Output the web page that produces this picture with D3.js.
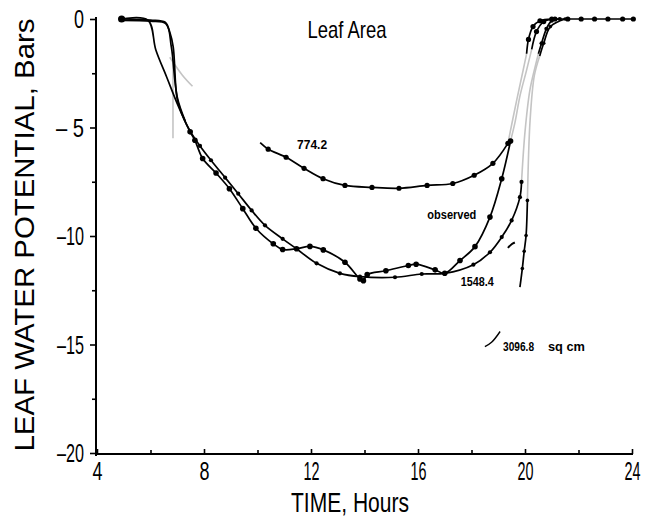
<!DOCTYPE html>
<html>
<head>
<meta charset="utf-8">
<script src="https://cdn.jsdelivr.net/npm/d3@7"></script>
<style>
body { margin: 0; background: #fff; }
svg text { fill: #000; }
.narrow { font-family: "Liberation Sans Narrow", "Liberation Sans", "DejaVu Sans Condensed", sans-serif; }
.wide { font-family: "Liberation Sans", Arial, sans-serif; }
</style>
</head>
<body>
<svg id="chart" width="648" height="520"></svg>
<script>
// axis ticks
var xTicks = [4, 8, 12, 16, 20, 24];
var xMinorTicks = [6, 10, 14, 18, 22];
var yTicks = [0, -5, -10, -15, -20];
var yTickLabels = ["0", "\u2013 5", "\u201310", "\u201315", "\u201320"];
var yMinorTicks = [-2.5, -7.5, -12.5, -17.5];

// observed
var obsHours = [4.92, 5.9, 6.2, 6.6, 7.0, 7.48, 7.66, 7.95, 8.45, 8.95, 9.45, 9.94, 10.59, 10.94, 11.46, 11.96, 12.46, 13.27, 13.83, 13.96, 14.1, 14.8, 15.64, 15.93, 16.64, 17.0, 17.57, 18.13, 18.69, 19.13, 19.46];
var obsBars = [0, -0.05, -1.43, -2.66, -3.9, -5.2, -5.59, -6.43, -7.1, -7.82, -8.74, -9.64, -10.36, -10.62, -10.59, -10.48, -10.64, -11.21, -11.98, -12.06, -11.78, -11.6, -11.36, -11.3, -11.56, -11.72, -11.13, -10.49, -9.13, -7.36, -5.62];
var obsRiseHours = [19.46, 19.62, 19.82, 20.05, 20.25];
var obsRiseBars = [-5.62, -4.8, -3.5, -2.4, -1.4];
var obsTopHours = [20.25, 20.43, 20.7, 21.12];
var obsTopBars = [-1.4, -0.58, -0.12, 0];

// 774.2 sq cm
var a774Hours = [10.1, 10.4, 11.07, 11.74, 12.45, 13.27, 14.28, 15.29, 16.34, 17.3, 18.1, 18.8, 19.36];
var a774Bars = [-5.7, -6.0, -6.37, -6.88, -7.36, -7.67, -7.76, -7.8, -7.67, -7.58, -7.2, -6.65, -5.73];
var a774RiseHours = [19.36, 19.69, 19.93, 20.06];
var a774RiseBars = [-5.73, -3.74, -2.36, -1.6];
var a774TopHours = [20.06, 20.13, 20.3, 20.56, 21.0];
var a774TopBars = [-1.6, -0.94, -0.35, -0.08, 0];

// 1548.4 sq cm
var a1548Hours = [4.92, 6.0, 6.55, 6.72, 6.85, 7.0, 7.25, 7.5, 7.85, 8.26, 8.79, 9.28, 9.78, 10.28, 10.94, 11.46, 12.21, 13.08, 13.83, 15.14, 16.14, 17.0, 18.07, 18.69, 19.13, 19.5, 19.81, 19.87];
var a1548Bars = [0, -0.05, -0.15, -0.6, -1.3, -3.7, -4.6, -5.2, -5.85, -6.51, -7.31, -8.05, -8.82, -9.51, -10.13, -10.59, -11.26, -11.72, -11.87, -11.9, -11.75, -11.72, -11.32, -10.75, -10.05, -9.28, -8.21, -7.51];
var a1548RiseHours = [19.87, 20.0, 20.18, 20.38, 20.5];
var a1548RiseBars = [-7.51, -5.2, -3.3, -2.2, -1.6];
var a1548TopHours = [20.5, 20.62, 20.8, 21.0, 21.3];
var a1548TopBars = [-1.6, -1.12, -0.45, -0.08, 0];

// 3096.8 sq cm
var a3097MornHours = [4.95, 6.0, 6.58, 6.78, 7.0, 7.3];
var a3097MornBars = [-0.06, -0.1, -0.22, -1.3, -3.6, -4.7];
var a3097Hours = [19.81, 19.9, 19.97, 20.04, 20.09];
var a3097Bars = [-12.36, -11.5, -10.7, -9.98, -8.36];
var a3097RiseHours = [20.09, 20.19, 20.35, 20.55];
var a3097RiseBars = [-8.36, -4.67, -2.6, -1.7];
var a3097TopHours = [20.55, 20.7, 20.95, 21.5];
var a3097TopBars = [-1.7, -1.12, -0.35, 0];

// shared flat tail at night
var tailHours = [21.1, 21.6, 22.1, 22.6, 23.1, 23.65, 24.05];
var tailBars = [0, 0, 0, 0, 0, 0, 0];

// faint grey smudges near 7 h
var smudgeAHours = [6.84, 6.84];
var smudgeABars = [-1.29, -5.5];
var smudgeBHours = [6.72, 7.2, 7.57];
var smudgeBBars = [-1.76, -2.6, -3.1];

var svg = d3.select("#chart");

var x = d3.scaleLinear().domain([4, 24]).range([97, 632]);
var y = d3.scaleLinear().domain([0, -20]).range([19, 453]);

function zip(hs, bs) {
    return hs.map(function(h, i) { return [h, bs[i]]; });
}

var line = d3.line()
    .x(function(d) { return x(d[0]); })
    .y(function(d) { return y(d[1]); })
    .curve(d3.curveCatmullRom.alpha(0.5));

// axes
var yAxis = svg.append("g")
    .attr("transform", "translate(96,0)")
    .call(d3.axisLeft(y).tickValues(yTicks).tickSize(6).tickPadding(6)
        .tickFormat(function(d, i) { return yTickLabels[i]; }));
svg.append("g")
    .attr("transform", "translate(96,0)")
    .call(d3.axisLeft(y).tickValues(yMinorTicks).tickSize(4).tickFormat(""));

var xAxis = svg.append("g")
    .attr("transform", "translate(0,454)")
    .call(d3.axisBottom(x).tickValues(xTicks).tickSize(-5).tickPadding(8));
svg.append("g")
    .attr("transform", "translate(0,454)")
    .call(d3.axisBottom(x).tickValues(xMinorTicks).tickSize(-4).tickFormat(""));

svg.selectAll(".domain").remove();
svg.selectAll(".tick line").attr("stroke", "#000").attr("stroke-width", 1.6);

svg.append("line").attr("x1", 96).attr("x2", 96).attr("y1", 17).attr("y2", 456)
    .attr("stroke", "#000").attr("stroke-width", 2);
svg.append("line").attr("x1", 95).attr("x2", 633).attr("y1", 454).attr("y2", 454)
    .attr("stroke", "#000").attr("stroke-width", 2);

// condensed tick numbers, squeezed to the scanned widths
svg.selectAll(".tick text")
    .attr("class", "narrow")
    .attr("font-size", 26)
    .attr("lengthAdjust", "spacingAndGlyphs")
    .attr("textLength", function() {
        var s = this.textContent;
        if (s.length === 1) return 10;
        if (s.indexOf(" ") > 0) return 28;
        return s.charAt(0) === "\u2013" ? 27 : 16;
    });
yAxis.selectAll(".tick text").attr("dy", "0.34em");

// grey traces
var grey = [
    zip(smudgeAHours, smudgeABars), zip(smudgeBHours, smudgeBBars),
    zip(obsRiseHours, obsRiseBars), zip(a774RiseHours, a774RiseBars),
    zip(a1548RiseHours, a1548RiseBars), zip(a3097RiseHours, a3097RiseBars)
];
svg.selectAll(".grey").data(grey).enter().append("path")
    .attr("class", "grey")
    .attr("d", line)
    .attr("fill", "none")
    .attr("stroke", "#c4c4c4")
    .attr("stroke-width", 1.6);

// dark curves
var dark = [
    {pts: zip(obsHours, obsBars), r: 2.8},
    {pts: zip(obsTopHours, obsTopBars), r: 2.6},
    {pts: zip(a774Hours, a774Bars), r: 2.6},
    {pts: zip(a774TopHours, a774TopBars), r: 2.6},
    {pts: zip(a1548Hours, a1548Bars), r: 2.1},
    {pts: zip(a1548TopHours, a1548TopBars), r: 2.1},
    {pts: zip(a3097MornHours, a3097MornBars), r: 0},
    {pts: zip(a3097Hours, a3097Bars), r: 1.8},
    {pts: zip(a3097TopHours, a3097TopBars), r: 1.8},
    {pts: zip(tailHours, tailBars), r: 2.6}
];
svg.selectAll(".curve").data(dark).enter().append("path")
    .attr("class", "curve")
    .attr("d", function(d) { return line(d.pts); })
    .attr("fill", "none")
    .attr("stroke", "#000")
    .attr("stroke-width", 1.7);

dark.forEach(function(s) {
    if (!s.r) return;
    svg.append("g").selectAll("circle")
        .data(s.pts.filter(function(p, i) { return i > 0 && (p[0] > 7.4 || p[1] === 0); }))
        .enter().append("circle")
        .attr("cx", function(d) { return x(d[0]); })
        .attr("cy", function(d) { return y(d[1]); })
        .attr("r", s.r)
        .attr("fill", "#000");
});
svg.append("circle").attr("cx", x(obsHours[0])).attr("cy", y(obsBars[0])).attr("r", 3.6).attr("fill", "#000");

// small pointer strokes
svg.append("path")
    .attr("d", line([[19.36, -10.55], [19.5, -10.38], [19.62, -10.3]]))
    .attr("fill", "none").attr("stroke", "#000").attr("stroke-width", 2);
svg.append("path")
    .attr("d", line([[18.5, -15.1], [18.75, -14.9], [19.07, -14.4]]))
    .attr("fill", "none").attr("stroke", "#000").attr("stroke-width", 1.4);

// titles
svg.append("text").attr("class", "narrow")
    .attr("x", 347).attr("y", 38).attr("text-anchor", "middle")
    .attr("font-size", 24).attr("textLength", 79).attr("lengthAdjust", "spacingAndGlyphs")
    .text("Leaf Area");

svg.append("text").attr("class", "narrow")
    .attr("x", 350).attr("y", 512).attr("text-anchor", "middle")
    .attr("font-size", 28).attr("textLength", 118).attr("lengthAdjust", "spacingAndGlyphs")
    .text("TIME, Hours");

svg.append("text").attr("class", "wide")
    .attr("transform", "translate(34,235) rotate(-90)")
    .attr("text-anchor", "middle")
    .attr("font-size", 27).attr("textLength", 433).attr("lengthAdjust", "spacingAndGlyphs")
    .text("LEAF WATER POTENTIAL, Bars");

var notes = [
    {t: 11.48, v: -5.98, s: "774.2", w: 30},
    {t: 16.35, v: -9.22, s: "observed", w: 49},
    {t: 17.6, v: -12.3, s: "1548.4", w: 33},
    {t: 19.18, v: -15.3, s: "3096.8", w: 31},
    {t: 20.86, v: -15.3, s: "sq cm", w: 37}
];
svg.selectAll(".note").data(notes).enter().append("text")
    .attr("class", "note narrow")
    .attr("x", function(d) { return x(d.t); })
    .attr("y", function(d) { return y(d.v); })
    .attr("font-size", 12.5)
    .attr("font-weight", "bold")
    .attr("textLength", function(d) { return d.w; })
    .attr("lengthAdjust", "spacingAndGlyphs")
    .text(function(d) { return d.s; });
</script>
</body>
</html>
